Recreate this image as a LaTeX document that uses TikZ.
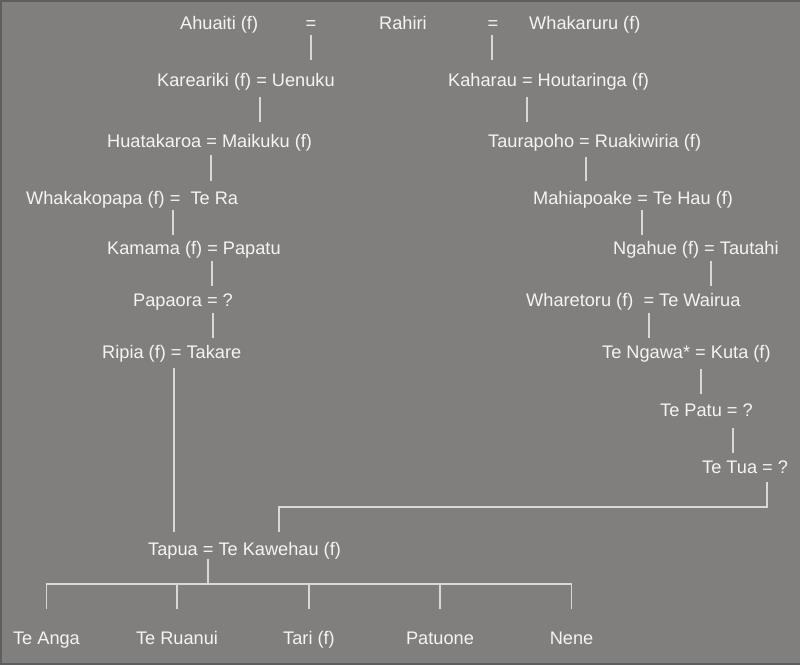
\documentclass[tikz,border=0pt]{standalone}
\usepackage{fontspec}
\setmainfont{Liberation Sans}
\usetikzlibrary{calc}
\definecolor{bg}{HTML}{807F7D}
\definecolor{frame}{HTML}{5E5E5E}
\definecolor{txt}{HTML}{F4F4F4}
\definecolor{lnc}{HTML}{D8D8D8}
\begin{document}
\begin{tikzpicture}[x=1pt,y=-1pt,
  per/.style={text=txt,inner sep=0pt,anchor=base west,font=\fontsize{18.2}{22}\selectfont},
  kid/.style={per,anchor=base},
  ln/.style={draw=lnc,line width=1.5pt}]
\useasboundingbox (0,0) rectangle (800,665);
\fill[bg] (0,0) rectangle (800,665);
\draw[frame,line width=1.6pt] (800,0.8) -- (0.8,0.8) -- (0.8,664.2) -- (800,664.2);
% top row
\node[per] (ahu) at (180,29) {Ahuaiti (f)};
\node[kid] (eq1) at (311,29) {=};
\node[per] (rah) at (379,29) {Rahiri};
\node[kid] (eq2) at (493,29) {=};
\node[per] (wha) at (529,29) {Whakaruru (f)};
% left line
\node[per] (kar) at (157,86) {Kareariki (f) = Uenuku};
\node[per] (hua) at (107,147) {Huatakaroa = Maikuku (f)};
\node[per] (whk) at (26,204) {Whakakopapa (f) = \ Te Ra};
\node[per] (kam) at (107,254) {Kamama (f) = Papatu};
\node[per] (pap) at (133,306) {Papaora = ?};
\node[per] (rip) at (102,358) {Ripia (f) = Takare};
% right line
\node[per] (kah) at (448,86) {Kaharau = Houtaringa (f)};
\node[per] (tau) at (488,147) {Taurapoho = Ruakiwiria (f)};
\node[per] (mah) at (533,204) {Mahiapoake = Te Hau (f)};
\node[per] (nga) at (613,254) {Ngahue (f) = Tautahi};
\node[per] (wht) at (526,306) {Wharetoru (f) \ = Te Wairua};
\node[per] (ngw) at (602,358) {Te Ngawa* = Kuta (f)};
\node[per] (pat) at (660,416) {Te Patu = ?};
\node[per] (tua) at (702,473) {Te Tua = ?};
% couple
\node[per] (tap) at (148,555) {Tapua = Te Kawehau (f)};
% children
\node[kid] (c1) at (46.5,644) {Te Anga};
\node[kid] (c2) at (177,644) {Te Ruanui};
\node[kid] (c3) at (309,644) {Tari (f)};
\node[kid] (c4) at (440,644) {Patuone};
\node[kid] (c5) at (571.5,644) {Nene};
% descent lines
\draw[ln] ($(eq1.base)+(0,6)$) -- ($(kar.base west)+(154,-26)$);
\draw[ln] ($(eq2.base)+(-1,6)$) -- ($(kah.base west)+(44,-26)$);
\draw[ln] ($(kar.base west)+(103,11)$) -- ($(hua.base west)+(153,-25)$);
\draw[ln] ($(kah.base west)+(79,11)$) -- ($(tau.base west)+(39,-25)$);
\draw[ln] ($(hua.base west)+(104,8)$) -- ($(whk.base west)+(185,-23)$);
\draw[ln] ($(tau.base west)+(98,10)$) -- ($(mah.base west)+(53,-23)$);
\draw[ln] ($(whk.base west)+(147,6)$) -- ($(kam.base west)+(66,-19)$);
\draw[ln] ($(mah.base west)+(109,6)$) -- ($(nga.base west)+(29,-19)$);
\draw[ln] ($(kam.base west)+(105,7)$) -- ($(pap.base west)+(79,-20)$);
\draw[ln] ($(nga.base west)+(98,7)$) -- ($(wht.base west)+(185,-20)$);
\draw[ln] ($(pap.base west)+(80,7)$) -- ($(rip.base west)+(111,-20)$);
\draw[ln] ($(wht.base west)+(123,7)$) -- ($(ngw.base west)+(47,-20)$);
\draw[ln] ($(rip.base west)+(72,10)$) -- ($(tap.base west)+(26,-23)$);
\draw[ln] ($(ngw.base west)+(99,11)$) -- ($(pat.base west)+(41,-22)$);
\draw[ln] ($(pat.base west)+(73,12)$) -- ($(tua.base west)+(31,-20)$);
\draw[ln] ($(tua.base west)+(65,9)$) -- ++(0,25) -| ($(tap.base west)+(131,-23)$);
% children lines
\draw[ln] ($(tap.base west)+(60,4)$) -- ++(0,25);
\draw[ln] ($(c1.base)+(-0.5,-60)$) -- ($(c5.base)+(0.5,-60)$);
\foreach \c in {c1,c2,c3,c4,c5}
  \draw[ln] ($(\c.base)+(0,-60)$) -- ($(\c.base)+(0,-35)$);
\end{tikzpicture}
\end{document}
